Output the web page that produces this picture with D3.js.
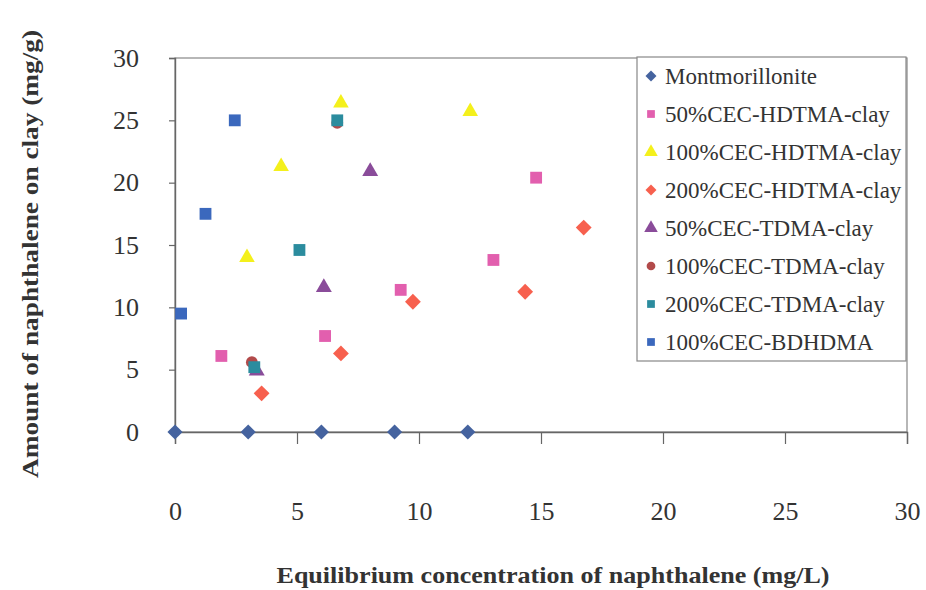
<!DOCTYPE html>
<html><head><meta charset="utf-8">
<script src="https://cdn.jsdelivr.net/npm/d3@7"></script>
<style>body{margin:0;background:#fff}svg{display:block}</style>
</head><body>
<script>
const seriesNames = ["Montmorillonite","50%CEC-HDTMA-clay","100%CEC-HDTMA-clay","200%CEC-HDTMA-clay","50%CEC-TDMA-clay","100%CEC-TDMA-clay","200%CEC-TDMA-clay","100%CEC-BDHDMA"];
const montX = [0, 3, 6, 9, 12];
const montY = [0, 0, 0, 0, 0];
const hd50X = [1.9, 6.15, 9.25, 13.05, 14.8];
const hd50Y = [6.1, 7.7, 11.4, 13.8, 20.4];
const hd100X = [2.95, 4.35, 6.8, 12.1];
const hd100Y = [14.0, 21.3, 26.4, 25.7];
const hd200X = [3.55, 6.8, 9.75, 14.35, 16.75];
const hd200Y = [3.1, 6.3, 10.45, 11.25, 16.4];
const td50X = [3.35, 6.1, 8.0];
const td50Y = [4.9, 11.6, 20.9];
const td100X = [3.15, 6.65];
const td100Y = [5.6, 24.8];
const td200X = [3.25, 5.1, 6.65];
const td200Y = [5.2, 14.6, 25.0];
const bdX = [0.25, 1.25, 2.45];
const bdY = [9.5, 17.5, 25.0];
const xTicks = [0,5,10,15,20,25,30];
const yTicks = [0,5,10,15,20,25,30];

const colors = ["#45639f","#e25fae","#f4f01c","#f7604e","#8a4c9a","#b24a4a","#2b8c9e","#3b68bd"];
const shapes = ["diamond","square","triangle","diamond","triangle","circle","square","square"];
const sizes = [115, 140, 105, 125, 110, 110, 140, 140];
const symType = {diamond: d3.symbolSquare, square: d3.symbolSquare, triangle: d3.symbolTriangle, circle: d3.symbolCircle};

const W = 926, H = 590;
const svg = d3.select("body").append("svg").attr("width", W).attr("height", H);
const L = 175, R = 907, T = 58, B = 432;
const x = d3.scaleLinear().domain([0,30]).range([L,R]);
const y = d3.scaleLinear().domain([0,30]).range([B,T]);
const SERIF = '"Liberation Serif"';

svg.append("rect").attr("x",L).attr("y",T).attr("width",R-L).attr("height",B-T)
  .attr("fill","none").attr("stroke","#888").attr("stroke-width",1.2);

const xa = svg.append("g").attr("transform",`translate(0,${B})`)
  .call(d3.axisBottom(x).tickValues(xTicks).tickSize(12).tickPadding(58).tickFormat(d3.format("d")));
const ya = svg.append("g").attr("transform",`translate(${L},0)`)
  .call(d3.axisLeft(y).tickValues(yTicks).tickSize(6).tickPadding(30).tickFormat(d3.format("d")));
[xa, ya].forEach(a => {
  a.select(".domain").attr("stroke","#666").attr("stroke-width",1.4);
  a.selectAll(".tick line").attr("stroke","#666").attr("stroke-width",1.2);
  a.selectAll(".tick text").style("font-family",SERIF).style("font-size","26px").attr("fill","#333");
});

function sym(i, size) {
  return d3.symbol().type(symType[shapes[i]]).size(size)();
}
const seriesX = [montX, hd50X, hd100X, hd200X, td50X, td100X, td200X, bdX];
const seriesY = [montY, hd50Y, hd100Y, hd200Y, td50Y, td100Y, td200Y, bdY];
seriesNames.forEach((name, i) => {
  const pts = seriesX[i].map((v, j) => [v, seriesY[i][j]]);
  const rot = shapes[i] === "diamond" ? " rotate(45)" : "";
  svg.append("g").selectAll("path").data(pts).join("path")
    .attr("d", sym(i, sizes[i]))
    .attr("transform", d => `translate(${x(d[0])},${y(d[1])})${rot}`)
    .attr("fill", colors[i]);
});

const lg = svg.append("g");
lg.append("rect").attr("x",637).attr("y",57).attr("width",269).attr("height",304)
  .attr("fill","#fff").attr("stroke","#888").attr("stroke-width",1.2);
seriesNames.forEach((name, i) => {
  const cy = 76 + i*38;
  const rot = shapes[i] === "diamond" ? " rotate(45)" : "";
  lg.append("path").attr("d", sym(i, shapes[i]==="triangle" ? 80 : 60))
    .attr("transform",`translate(651,${cy})${rot}`).attr("fill",colors[i]);
  lg.append("text").attr("x",665).attr("y",cy+8).text(name)
    .style("font-family",SERIF).style("font-size","23px").attr("fill","#333");
});

svg.append("text").attr("x",553).attr("y",583).attr("text-anchor","middle")
  .style("font-family",SERIF).style("font-weight","bold").style("font-size","23px").attr("fill","#333")
  .attr("textLength",553).attr("lengthAdjust","spacingAndGlyphs")
  .text("Equilibrium concentration of naphthalene (mg/L)");
svg.append("text").attr("transform","translate(38,254) rotate(-90)").attr("text-anchor","middle")
  .style("font-family",SERIF).style("font-weight","bold").style("font-size","23px").attr("fill","#333")
  .attr("textLength",448).attr("lengthAdjust","spacingAndGlyphs")
  .text("Amount of naphthalene on clay (mg/g)");
</script>
</body></html>
